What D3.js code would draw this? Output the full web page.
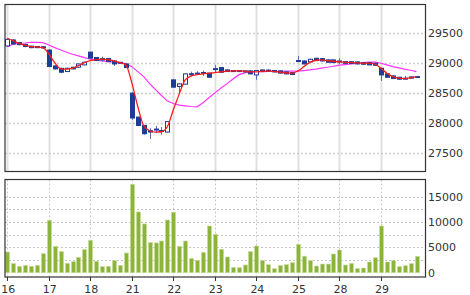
<!DOCTYPE html>
<html>
<head>
<meta charset="utf-8">
<script src="https://cdn.jsdelivr.net/npm/d3@7"></script>
<style>
    body { margin: 0; background: #fff; }
    text { font-family: "DejaVu Sans", Verdana, sans-serif; font-size: 11px; fill: #333; }
</style>
</head>
<body>
<svg id="chart" width="470" height="295"></svg>
<script>
// Day labels (7 bars per day)
const days = ["16", "17", "18", "21", "22", "23", "24", "25", "28", "29"];
const barsPerDay = 7;

const opens = [
    29283, 29383, 29340, 29310, 29280, 29275, 29270,
    29215, 28950, 28910, 28856, 28928, 28928, 28967,
    29180, 29090, 29072, 29072, 29033, 29011, 28983,
    28495, 28095, 27956, 27867, 27880, 27870, 27845,
    28717, 28606, 28645, 28810, 28825, 28835, 28828,
    28900, 28922, 28883, 28870, 28872, 28867, 28867,
    28800, 28883, 28880, 28872, 28867, 28850, 28839,
    29040, 29033, 29017, 29078, 29072, 29050, 29050,
    29030, 29022, 29020, 29017, 29006, 29006, 28994,
    28911, 28817, 28783, 28761, 28740, 28745, 28770
];
const highs = [
    29410, 29400, 29350, 29320, 29290, 29280, 29280,
    29230, 28960, 28920, 28920, 28935, 28990, 29020,
    29185, 29095, 29105, 29080, 29040, 29015, 28990,
    28510, 28100, 27960, 27910, 27950, 27930, 28025,
    28720, 28660, 28820, 28855, 28860, 28872, 28835,
    28967, 28930, 28890, 28880, 28880, 28875, 28872,
    28875, 28890, 28895, 28880, 28870, 28855, 28845,
    29117, 29040, 29070, 29085, 29080, 29060, 29055,
    29078, 29030, 29025, 29020, 29010, 29010, 29000,
    28920, 28825, 28790, 28765, 28783, 28775, 28785
];
const lows = [
    29270, 29305, 29295, 29260, 29245, 29250, 29240,
    28935, 28890, 28828, 28850, 28895, 28920, 28960,
    29075, 29030, 29022, 29015, 28950, 28985, 28915,
    28050, 27945, 27800, 27728, 27830, 27800, 27840,
    28590, 28495, 28640, 28772, 28800, 28783, 28755,
    28845, 28835, 28850, 28860, 28855, 28845, 28810,
    28717, 28850, 28855, 28845, 28825, 28810, 28800,
    29025, 28975, 29010, 29030, 29025, 29005, 29000,
    28983, 28990, 28985, 28978, 28972, 28960, 28955,
    28700, 28755, 28730, 28720, 28717, 28740, 28760
];
const closes = [
    29394, 29317, 29305, 29275, 29255, 29255, 29250,
    28940, 28900, 28845, 28911, 28900, 28983, 29011,
    29080, 29040, 29050, 29022, 28983, 28995, 28922,
    28080, 27955, 27817, 27845, 27895, 27860, 28020,
    28595, 28650, 28817, 28820, 28830, 28840, 28761,
    28905, 28844, 28856, 28872, 28861, 28850, 28817,
    28872, 28855, 28860, 28850, 28830, 28817, 28806,
    29033, 28983, 29061, 29039, 29033, 29011, 29006,
    29033, 28994, 28990, 28983, 28978, 28967, 28961,
    28800, 28761, 28739, 28728, 28745, 28767, 28772
];
const volumes = [
    4080, 1780, 1250, 1450, 1250, 1450, 3750,
    10340, 5200, 4150, 1840, 2170, 3030, 4550,
    6390, 2240, 1190, 1250, 2370, 1450, 3890,
    17450, 11990, 9620, 5960, 5880, 6260, 10410,
    11920, 5200, 6260, 2830, 2440, 4020, 9220,
    7580, 4610, 3100, 1050, 990, 1520, 4150,
    5270, 2440, 1580, 790, 1450, 1580, 1980,
    5600, 3260, 2370, 1320, 1710, 1710, 3690,
    4480, 1520, 1840, 790, 920, 2110, 2960,
    9220, 2110, 2370, 1190, 1380, 1780, 3230
];
// Short (red) and long (magenta) moving averages
const maShort = [
    29412, 29372, 29328, 29295, 29272, 29267, 29255,
    29150, 29005, 28900, 28895, 28912, 28955, 29005,
    29038, 29055, 29062, 29055, 29033, 29005, 28967,
    28667, 28272, 27950, 27867, 27845, 27850, 27938,
    28217, 28483, 28717, 28783, 28805, 28817, 28828,
    28838, 28850, 28862, 28867, 28867, 28862, 28850,
    28850, 28862, 28862, 28855, 28845, 28833, 28828,
    28867, 28938, 29008, 29045, 29050, 29038, 29028,
    29017, 29012, 29005, 29000, 28995, 28995, 28978,
    28912, 28828, 28772, 28745, 28738, 28750, 28772
];
const maLong = [
    29272, 29312, 29328, 29333, 29345, 29345, 29338,
    29300, 29255, 29217, 29178, 29145, 29117, 29088,
    29062, 29045, 29033, 29022, 29012, 29000, 28988,
    28938, 28855, 28772, 28655, 28555, 28455, 28362,
    28322, 28295, 28283, 28272, 28267, 28333, 28417,
    28500, 28578, 28650, 28728, 28800, 28833, 28855,
    28855, 28855, 28858, 28860, 28860, 28862, 28862,
    28862, 28872, 28883, 28895, 28912, 28928, 28945,
    28962, 28972, 28983, 28995, 29005, 29012, 29012,
    28995, 28967, 28938, 28917, 28895, 28878, 28855
];
const priceTicks = [27500, 28000, 28500, 29000, 29500];
const volumeGrid = [2500, 5000, 7500, 10000, 12500, 15000];
const volumeTicks = [0, 5000, 10000, 15000];

const svg = d3.select("#chart");

// Panel boxes
const left = 5, right = 425.5;
const top1 = 4.5, bottom1 = 171.5;
const top2 = 179.5, bottom2 = 277;

const data = opens.map((o, i) => ({
    i: i, open: o, high: highs[i], low: lows[i], close: closes[i],
    volume: volumes[i], ma1: maShort[i], ma2: maLong[i]
}));

// Scales
const x = d3.scaleLinear().domain([0, opens.length - 1]).range([7.3, 416.5]);
const yPrice = d3.scaleLinear().domain([27500, 29500]).range([152.7, 33]);
const yVol = d3.scaleLinear().domain([0, 15000]).range([272.7, 196.7]);

const dayIdx = days.map((d, k) => k * barsPerDay);
const px = (i) => Math.round(x(i)) + 0.5;

// Clip for the price panel
svg.append("clipPath").attr("id", "clipTop")
    .append("rect").attr("x", left).attr("y", top1)
    .attr("width", right - left).attr("height", bottom1 - top1);

// Vertical day lines - top panel solid, bottom panel dotted
svg.append("g").selectAll("line").data(dayIdx).join("line")
    .attr("x1", px).attr("x2", px)
    .attr("y1", top1).attr("y2", bottom1)
    .attr("stroke", "#e0e0e0").attr("stroke-width", 2);

svg.append("g").selectAll("line").data(dayIdx).join("line")
    .attr("x1", px).attr("x2", px)
    .attr("y1", top2).attr("y2", bottom2)
    .attr("stroke", "#c8c8c8").attr("stroke-width", 1)
    .attr("stroke-dasharray", "2,2");

// Horizontal grid lines
svg.append("g").selectAll("line").data(priceTicks).join("line")
    .attr("x1", left).attr("x2", right)
    .attr("y1", (d) => Math.round(yPrice(d)) + 0.5)
    .attr("y2", (d) => Math.round(yPrice(d)) + 0.5)
    .attr("stroke", "#cfcfcf").attr("stroke-width", 1.5)
    .attr("stroke-dasharray", "2,2");

svg.append("g").selectAll("line").data(volumeGrid).join("line")
    .attr("x1", left).attr("x2", right)
    .attr("y1", (d) => Math.round(yVol(d)) + 0.5)
    .attr("y2", (d) => Math.round(yVol(d)) + 0.5)
    .attr("stroke", "#c4c4c4").attr("stroke-width", 1)
    .attr("stroke-dasharray", "2,2");

// Moving averages
const plot = svg.append("g").attr("clip-path", "url(#clipTop)");

const lineLong = d3.line().x((d) => x(d.i)).y((d) => yPrice(d.ma2));
const lineShort = d3.line().x((d) => x(d.i)).y((d) => yPrice(d.ma1)).curve(d3.curveMonotoneX);

plot.append("path").datum(data).attr("d", lineLong)
    .attr("fill", "none").attr("stroke", "#ff33ff").attr("stroke-width", 1.2);

// Candles
const candleColor = "#1c3c96";
const candles = plot.append("g").selectAll("g").data(data).join("g");

candles.append("line")
    .attr("x1", (d) => px(d.i)).attr("x2", (d) => px(d.i))
    .attr("y1", (d) => yPrice(d.high)).attr("y2", (d) => yPrice(d.low))
    .attr("stroke", "#5a6fb0").attr("stroke-width", 1);

candles.append("rect")
    .attr("x", (d) => Math.round(x(d.i)) - 1.5)
    .attr("width", 4)
    .attr("y", (d) => yPrice(Math.max(d.open, d.close)))
    .attr("height", (d) => Math.max(1, Math.abs(yPrice(d.open) - yPrice(d.close))))
    .attr("fill", (d) => d.close > d.open ? "#fff" : candleColor)
    .attr("stroke", candleColor).attr("stroke-width", 1);

plot.append("path").datum(data).attr("d", lineShort)
    .attr("fill", "none").attr("stroke", "#ff1a1a").attr("stroke-width", 1.3);

// Volume bars
svg.append("g").selectAll("rect").data(data).join("rect")
    .attr("x", (d) => Math.round(x(d.i)) - 1.5)
    .attr("width", 4)
    .attr("y", (d) => yVol(d.volume))
    .attr("height", (d) => yVol(0) - yVol(d.volume))
    .attr("fill", "#8cb43a")
    .attr("stroke", "#c6dd97").attr("stroke-width", 0.6);

// Frames
svg.append("rect").attr("x", left).attr("y", top1)
    .attr("width", right - left).attr("height", bottom1 - top1)
    .attr("fill", "none").attr("stroke", "#333").attr("stroke-width", 1.2);
svg.append("rect").attr("x", left).attr("y", top2)
    .attr("width", right - left).attr("height", bottom2 - top2)
    .attr("fill", "none").attr("stroke", "#333").attr("stroke-width", 1.2);

// X axis ticks and day labels
svg.append("g").selectAll("line").data(dayIdx).join("line")
    .attr("x1", px).attr("x2", px)
    .attr("y1", bottom2).attr("y2", bottom2 + 4)
    .attr("stroke", "#333");

svg.append("g").selectAll("text").data(days).join("text")
    .attr("x", (d, k) => x(dayIdx[k]) + 1)
    .attr("y", 293)
    .attr("text-anchor", "middle")
    .text((d) => d);

// Y labels on the right
svg.append("g").selectAll("text").data(priceTicks).join("text")
    .attr("x", 428)
    .attr("y", (d) => yPrice(d))
    .attr("dy", "0.36em")
    .text((d) => d);

svg.append("g").selectAll("text").data(volumeTicks).join("text")
    .attr("x", 428)
    .attr("y", (d) => yVol(d))
    .attr("dy", "0.36em")
    .text((d) => d);
</script>
</body>
</html>
